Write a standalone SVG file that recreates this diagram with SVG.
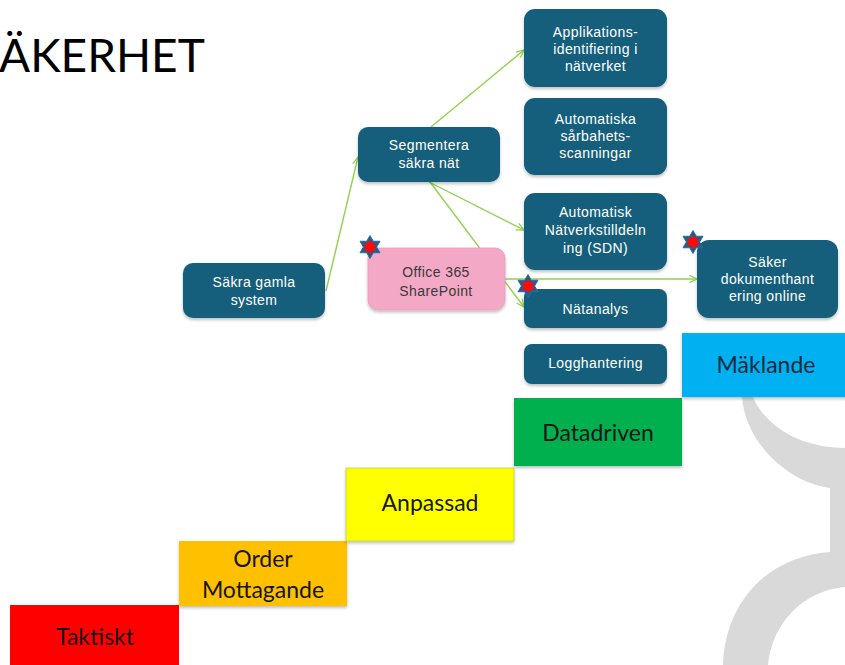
<svg xmlns="http://www.w3.org/2000/svg" xmlns:xlink="http://www.w3.org/1999/xlink" width="845" height="665" viewBox="0 0 845 665">
  <defs>
    <style>
      .node { fill: #175e7b; }
      .pink { fill: #f3a8c6; stroke: #e99bbb; stroke-width: 0.8; }
      .nt { font-family: "Liberation Sans", Arial, sans-serif; font-size: 14px; letter-spacing: 0.4px; fill: #ffffff; text-anchor: middle; }
      .pt { font-family: "Liberation Sans", Arial, sans-serif; font-size: 14px; letter-spacing: 0.4px; fill: #3a3a3a; text-anchor: middle; }
      .st { font-family: Lato, "Liberation Sans", sans-serif; font-size: 23px; fill: #161616; text-anchor: middle; }
      .conn { stroke: #92d050; stroke-width: 1.4; fill: none; marker-end: url(#arr); }
      .title { font-family: Lato, "Liberation Sans", sans-serif; font-size: 46px; fill: #000000; }
    </style>
    <marker id="arr" viewBox="0 0 10 10" refX="9.5" refY="5" markerWidth="9" markerHeight="9" markerUnits="userSpaceOnUse" orient="auto">
      <path d="M1,1 L9.5,5 L1,9" fill="none" stroke="#92d050" stroke-width="1.4"/>
    </marker>
    <filter id="sh" x="-10%" y="-10%" width="120%" height="130%">
      <feDropShadow dx="0" dy="2" stdDeviation="1.5" flood-color="#000" flood-opacity="0.25"/>
    </filter>
    <g id="star">
      <polygon points="0,-11.5 3.3,-5.75 10,-5.75 6.6,0 10,5.75 3.3,5.75 0,11.5 -3.3,5.75 -10,5.75 -6.6,0 -10,-5.75 -3.3,-5.75" fill="#1f5f8e" stroke="#2a6d9c" stroke-width="1"/>
      <polygon points="0,-7.5 2.15,-3.75 6.5,-3.75 4.3,0 6.5,3.75 2.15,3.75 0,7.5 -2.15,3.75 -6.5,3.75 -4.3,0 -6.5,-3.75 -2.15,-3.75" fill="#ff0a0a"/>
    </g>
  </defs>

  <rect width="845" height="665" fill="#ffffff"/>

  <!-- decorative grey shape -->
  <path d="M742,397 C745,440 785,482 830,488 L830,552 C770,556 725,600 723,665 L768,665 C772,622 805,590 845,587 L845,448 C800,448 765,426 753,397 Z" fill="#d9d9d9"/>

  <text class="title" x="-1" y="72">ÄKERHET</text>

  <!-- stairs -->
  <g id="step-taktiskt">
    <rect x="10" y="605" width="169" height="62" fill="#ff0000"/>
    <text class="st" x="95" y="645">Taktiskt</text>
  </g>
  <g id="step-order">
    <rect x="179" y="541" width="168" height="65" fill="#ffc000" filter="url(#sh)"/>
    <text class="st" x="263" y="567">Order</text>
    <text class="st" x="263" y="598">Mottagande</text>
  </g>
  <g id="step-anpassad">
    <rect x="346" y="468" width="168" height="73" fill="#ffff00" stroke="#9bc53d" stroke-width="0.6" filter="url(#sh)"/>
    <text class="st" x="430" y="511">Anpassad</text>
  </g>
  <g id="step-datadriven">
    <rect x="514" y="398" width="168" height="68" fill="#00b050" filter="url(#sh)"/>
    <text class="st" x="598" y="441">Datadriven</text>
  </g>
  <g id="step-maklande">
    <rect x="682" y="333" width="165" height="64" fill="#00b0f0" filter="url(#sh)"/>
    <text class="st" x="766" y="373" style="fill:#1a2a3a">Mäklande</text>
  </g>

  <!-- connectors -->
  <g id="connectors">
    <line class="conn" x1="326" y1="291" x2="358" y2="157"/>
    <line class="conn" x1="431" y1="127" x2="524" y2="50"/>
    <line class="conn" x1="429" y1="182" x2="524" y2="230"/>
    <line class="conn" x1="430" y1="182" x2="524" y2="307"/>
    <line class="conn" x1="505" y1="279" x2="697" y2="279"/>
  </g>

  <!-- nodes -->
  <g id="n-applikations">
    <rect class="node" x="524" y="9" width="143" height="78" rx="11" filter="url(#sh)"/>
    <text class="nt" x="595.5" y="37">Applikations-</text>
    <text class="nt" x="595.5" y="54">identifiering i</text>
    <text class="nt" x="595.5" y="71">nätverket</text>
  </g>
  <g id="n-automatiska">
    <rect class="node" x="524" y="98" width="143" height="77" rx="11" filter="url(#sh)"/>
    <text class="nt" x="595.5" y="124">Automatiska</text>
    <text class="nt" x="595.5" y="141">sårbahets-</text>
    <text class="nt" x="595.5" y="158">scanningar</text>
  </g>
  <g id="n-segmentera">
    <rect class="node" x="358" y="127" width="142" height="55" rx="10" filter="url(#sh)"/>
    <text class="nt" x="429" y="150">Segmentera</text>
    <text class="nt" x="429" y="168">säkra nät</text>
  </g>
  <g id="n-sdn">
    <rect class="node" x="524" y="193" width="143" height="77" rx="11" filter="url(#sh)"/>
    <text class="nt" x="595.5" y="217">Automatisk</text>
    <text class="nt" x="595.5" y="235">Nätverkstilldeln</text>
    <text class="nt" x="595.5" y="253">ing (SDN)</text>
  </g>
  <g id="n-sakra-gamla">
    <rect class="node" x="183" y="263" width="142" height="55" rx="10" filter="url(#sh)"/>
    <text class="nt" x="254" y="287">Säkra gamla</text>
    <text class="nt" x="254" y="305">system</text>
  </g>
  <g id="n-office">
    <rect class="pink" x="368" y="248" width="137" height="62" rx="10" filter="url(#sh)"/>
    <text class="pt" x="436" y="277">Office 365</text>
    <text class="pt" x="436" y="296">SharePoint</text>
  </g>
  <g id="n-natanalys">
    <rect class="node" x="524" y="289" width="143" height="39" rx="8" filter="url(#sh)"/>
    <text class="nt" x="595.5" y="314">Nätanalys</text>
  </g>
  <g id="n-logg">
    <rect class="node" x="524" y="344" width="143" height="40" rx="8" filter="url(#sh)"/>
    <text class="nt" x="595.5" y="368">Logghantering</text>
  </g>
  <g id="n-saker">
    <rect class="node" x="697" y="240" width="141" height="78" rx="12" filter="url(#sh)"/>
    <text class="nt" x="767.5" y="267">Säker</text>
    <text class="nt" x="767.5" y="284">dokumenthant</text>
    <text class="nt" x="767.5" y="301">ering online</text>
  </g>

  <!-- stars -->
  <g id="stars">
    <use xlink:href="#star" href="#star" x="370" y="247"/>
    <use xlink:href="#star" href="#star" x="528" y="286"/>
    <use xlink:href="#star" href="#star" x="693" y="242"/>
  </g>
</svg>
